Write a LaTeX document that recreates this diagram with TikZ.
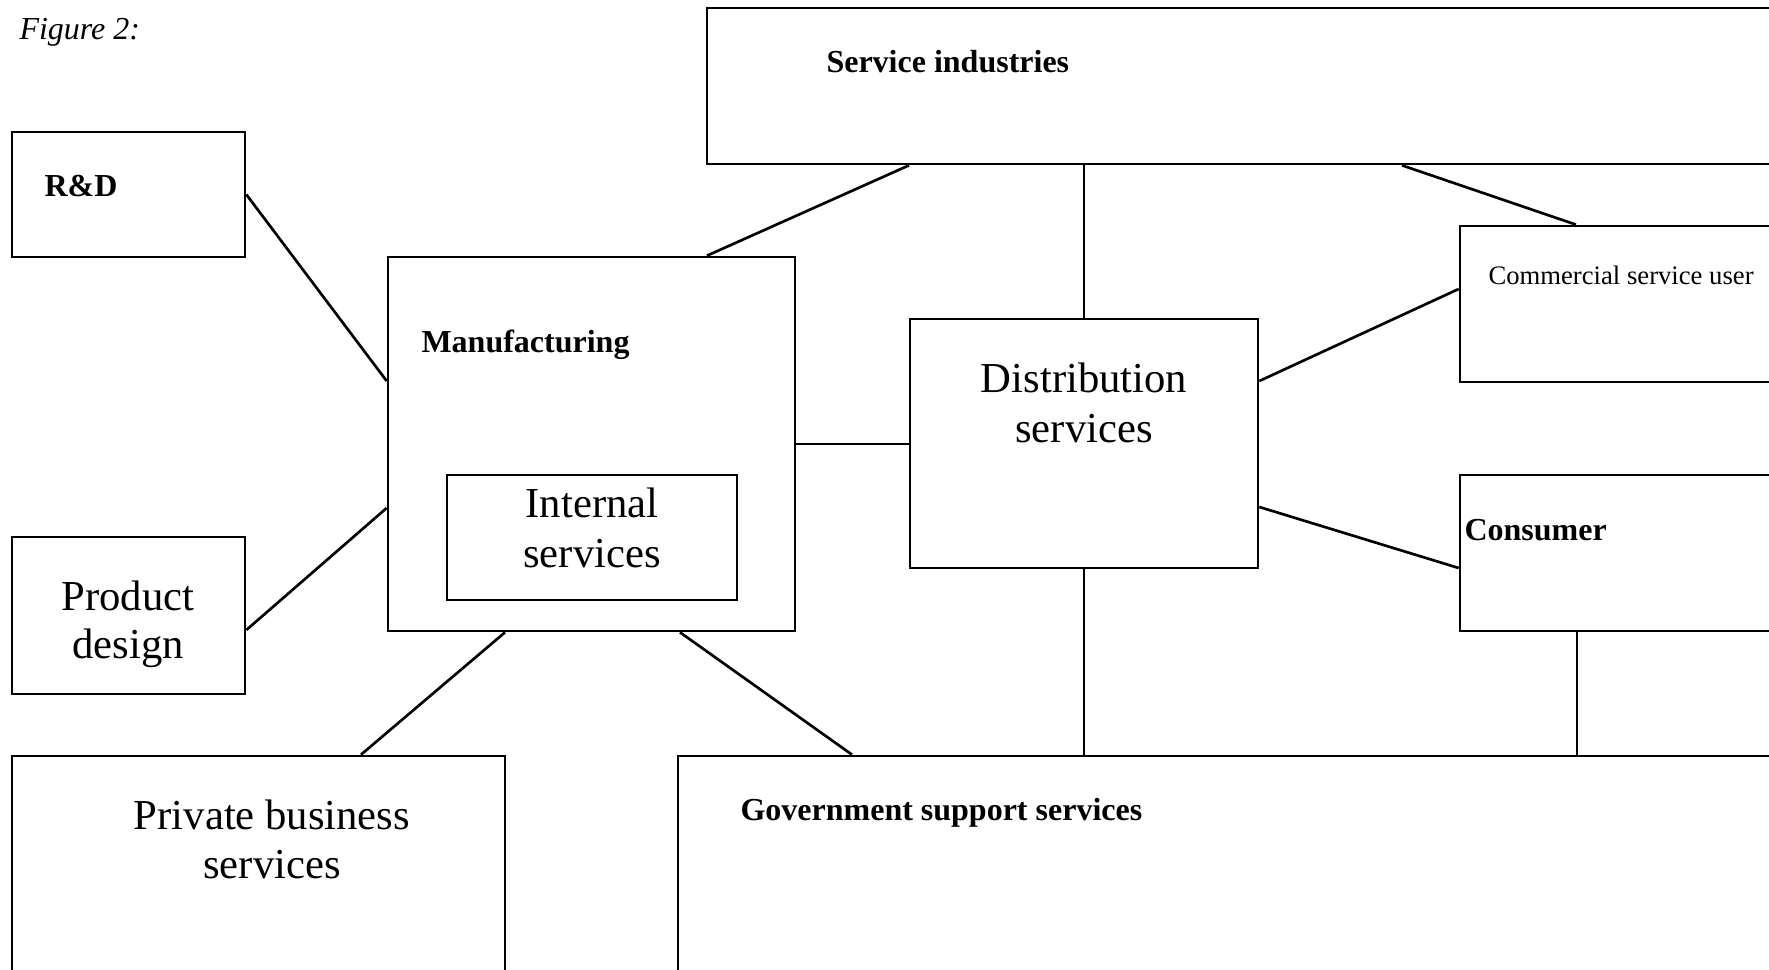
\documentclass[tikz,border=0pt]{standalone}
\usepackage{fontspec}
\setmainfont{Liberation Serif}
\usetikzlibrary{fit}
\tikzset{
  box/.style={draw, line width=1pt, inner sep=0pt, rectangle},
  link/.style={draw, line width=1pt},
  boldlabel/.style={inner sep=0pt, anchor=base west, font=\fontsize{12}{14}\selectfont\bfseries},
  biglabel/.style={inner sep=0pt, anchor=base, font=\fontsize{16}{18}\selectfont},
  smalllabel/.style={inner sep=0pt, anchor=base west, font=\fontsize{10}{12}\selectfont},
  figlabel/.style={inner sep=0pt, anchor=base west, font=\fontsize{12}{14}\selectfont\itshape}
}
\begin{document}
\begin{tikzpicture}[x=0.375pt, y=-0.375pt]
\useasboundingbox (0,0) rectangle (1769,970);
\clip (0,0) rectangle (1769,970);
\fill[white] (0,0) rectangle (1769,970);

% boxes
\node[box, fit={(707,8) (1810,164)}] (si) {};
\node[box, fit={(12,132) (245,257)}] (rd) {};
\node[box, fit={(12,537) (245,694)}] (pd) {};
\node[box, fit={(388,257) (795,631)}] (mfg) {};
\node[box, fit={(447,475) (737,600)}] (int) {};
\node[box, fit={(910,319) (1258,568)}] (dist) {};
\node[box, fit={(1460,226) (1810,382)}] (csu) {};
\node[box, fit={(1460,475) (1810,631)}] (con) {};
\node[box, fit={(12,756) (505,1000)}] (pbs) {};
\node[box, fit={(678,756) (1810,1000)}] (gov) {};

% texts
\node[figlabel] (fig) at (19,40) {Figure 2:};
\node[boldlabel] (sit) at (826,73) {Service industries};
\node[boldlabel] (rdt) at (44,197) {R\&D};
\node[boldlabel] (mfgt) at (421,353) {Manufacturing};
\node[biglabel] (int1) at (592,517) {Internal};
\node[biglabel] (int2) at (592,567) {services};
\node[biglabel] (dist1) at (1084,393) {Distribution};
\node[biglabel] (dist2) at (1084,442) {services};
\node[biglabel] (pd1) at (128,610) {Product};
\node[biglabel] (pd2) at (128,658) {design};
\node[biglabel] (pbs1) at (272,829) {Private business};
\node[biglabel] (pbs2) at (272,878) {services};
\node[smalllabel] (csut) at (1488,285) {Commercial service user};
\node[boldlabel] (cont) at (1464,540) {Consumer};
\node[boldlabel] (govt) at (740,820) {Government support services};

% connectors
\draw[link] (rd.east) -- (mfg.west |- 0,381);
\draw[link] (pd.east |- 0,630) -- (mfg.west |- 0,508);
\draw[link] (si.south -| 909,0) -- (mfg.north -| 707,0);
\draw[link] (si.south -| dist.north) -- (dist.north);
\draw[link] (si.south -| 1402,0) -- (csu.north -| 1576,0);
\draw[link] (mfg.east) -- (dist.west |- mfg.east);
\draw[link] (dist.east |- 0,381) -- (csu.west |- 0,289);
\draw[link] (dist.east |- 0,507) -- (con.west |- 0,568);
\draw[link] (dist.south) -- (gov.north -| dist.south);
\draw[link] (con.south -| 1577,0) -- (gov.north -| 1577,0);
\draw[link] (mfg.south -| 505,0) -- (pbs.north -| 361,0);
\draw[link] (mfg.south -| 680,0) -- (gov.north -| 852,0);
\end{tikzpicture}
\end{document}
